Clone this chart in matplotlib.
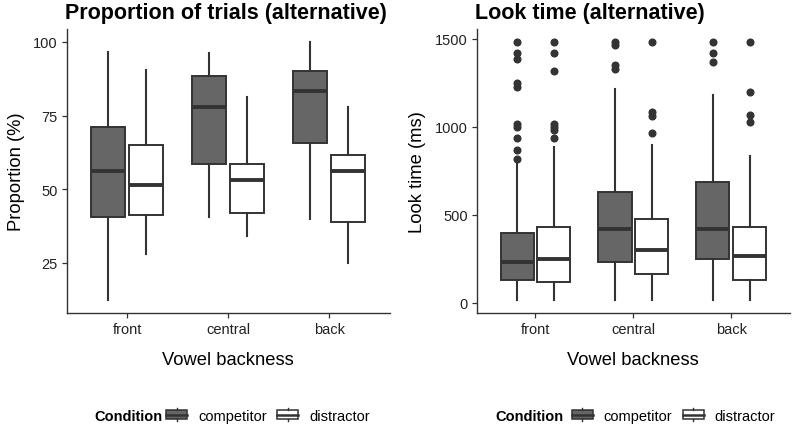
"""Boxplots of proportion of trials and look time by vowel backness."""

import matplotlib

matplotlib.use("Agg")
import matplotlib.pyplot as plt
from matplotlib.legend_handler import HandlerBase
from matplotlib.lines import Line2D
from matplotlib.patches import Patch, Rectangle

plt.rcParams["font.family"] = ["Liberation Sans", "DejaVu Sans"]

categories = ["front", "central", "back"]
conditions = ["competitor", "distractor"]

# proportion of trials (%), per condition, per category
prop_whislo = {"competitor": [12.4, 40.6, 39.8], "distractor": [27.9, 34.2, 24.9]}
prop_q1 = {"competitor": [40.6, 58.6, 65.8], "distractor": [41.4, 42.1, 39.0]}
prop_med = {"competitor": [56.2, 77.8, 83.4], "distractor": [51.4, 53.1, 56.2]}
prop_q3 = {"competitor": [71.1, 88.6, 90.2], "distractor": [64.9, 58.6, 61.8]}
prop_whishi = {"competitor": [96.7, 96.2, 100.0], "distractor": [90.5, 81.2, 78.0]}

# look time (ms)
look_whislo = {"competitor": [15, 15, 15], "distractor": [15, 15, 15]}
look_q1 = {"competitor": [132, 232, 250], "distractor": [119, 164, 132]}
look_med = {"competitor": [232, 418, 418], "distractor": [249, 297, 266]}
look_q3 = {"competitor": [396, 631, 686], "distractor": [430, 478, 430]}
look_whishi = {"competitor": [800, 1215, 1177], "distractor": [882, 895, 831]}
look_fliers = {
    "competitor": [
        [1481, 1415, 1381, 1249, 1227, 1013, 1000, 933, 867, 814],
        [1481, 1466, 1347, 1328],
        [1481, 1415, 1364],
    ],
    "distractor": [
        [1481, 1415, 1315, 1013, 1000, 981, 933],
        [1481, 1083, 1060, 964],
        [1481, 1198, 1064, 1028],
    ],
}

FILLS = {"competitor": "#666666", "distractor": "#ffffff"}
EDGE = "#333333"
OFFSETS = {"competitor": -0.1875, "distractor": 0.1875}
BOX_WIDTH = 0.3375


def build_stats(whislo, q1, med, q3, whishi, fliers=None):
    stats = []
    for i in range(len(categories)):
        stats.append({
            "whislo": whislo[i], "q1": q1[i], "med": med[i], "q3": q3[i],
            "whishi": whishi[i], "fliers": fliers[i] if fliers else [],
        })
    return stats


def draw_panel(ax, data, title, ylabel, yticks):
    for cond in conditions:
        stats = build_stats(*[d[cond] for d in data[:5]],
                            data[5][cond] if len(data) > 5 else None)
        positions = [i + 1 + OFFSETS[cond] for i in range(len(categories))]
        ax.bxp(
            stats, positions=positions, widths=BOX_WIDTH, patch_artist=True,
            showcaps=False, manage_ticks=False,
            boxprops=dict(facecolor=FILLS[cond], edgecolor=EDGE, linewidth=1.4),
            whiskerprops=dict(color=EDGE, linewidth=1.5),
            medianprops=dict(color=EDGE, linewidth=2.8, solid_capstyle="butt"),
            flierprops=dict(marker="o", markerfacecolor=EDGE, markeredgecolor=EDGE,
                            markersize=4.8, linestyle="none"),
        )
    ax.set_xlim(0.4, 3.6)
    ax.set_xticks([1, 2, 3])
    ax.set_xticklabels(categories)
    ax.set_yticks(yticks)
    ax.tick_params(labelsize=10.5, colors="#333333", labelcolor="#222222",
                   length=3.5, width=0.9, pad=3)
    for side in ["top", "right"]:
        ax.spines[side].set_visible(False)
    for side in ["left", "bottom"]:
        ax.spines[side].set_color("#333333")
        ax.spines[side].set_linewidth(1.0)
    ax.set_title(title, loc="left", fontsize=15.5, fontweight="bold", pad=8, x=-0.005)
    ax.set_xlabel("Vowel backness", fontsize=13.2, labelpad=11)
    ax.set_ylabel(ylabel, fontsize=13.2, labelpad=6)


class BoxKeyHandler(HandlerBase):
    def create_artists(self, legend, orig_handle, xdescent, ydescent,
                       width, height, fontsize, trans):
        h = height
        y0 = -ydescent
        rect = Rectangle((-xdescent, y0), width, h, facecolor=orig_handle.get_facecolor(),
                         edgecolor=EDGE, linewidth=1.1, transform=trans)
        mid = y0 + h / 2
        med = Line2D([-xdescent, -xdescent + width], [mid, mid], color=EDGE,
                     linewidth=1.8, transform=trans)
        cx = -xdescent + width / 2
        top = Line2D([cx, cx], [y0 + h, y0 + h + 1.3], color=EDGE, linewidth=1.0,
                     transform=trans)
        bot = Line2D([cx, cx], [y0 - 1.3, y0], color=EDGE, linewidth=1.0,
                     transform=trans)
        return [rect, med, top, bot]


fig = plt.figure(figsize=(7.96, 4.27), dpi=100)
W, H = 796, 427
ax1 = fig.add_axes([66.7 / W, 1 - 314 / H, (390 - 66.7) / W, (314 - 30) / H])
ax2 = fig.add_axes([476.7 / W, 1 - 314 / H, (790 - 476.7) / W, (314 - 30) / H])

draw_panel(ax1, [prop_whislo, prop_q1, prop_med, prop_q3, prop_whishi],
           "Proportion of trials (alternative)", "Proportion (%)", [25, 50, 75, 100])
ax1.set_ylim(8.0, 104.4)

draw_panel(ax2, [look_whislo, look_q1, look_med, look_q3, look_whishi, look_fliers],
           "Look time (alternative)", "Look time (ms)", [0, 500, 1000, 1500])
ax2.set_ylim(-58, 1554)

handles = [Patch(facecolor=FILLS[c], edgecolor=EDGE) for c in conditions]
legend_y = 1 - 416.7 / H
for title_x, legend_x in [(94, 268), (495, 673.5)]:
    fig.text(title_x / W, legend_y, "Condition", fontsize=10.5, fontweight="bold",
             ha="left", va="center")
    fig.legend(handles, conditions, ncol=2, loc="center",
               bbox_to_anchor=(legend_x / W, legend_y), frameon=False,
               fontsize=10.5, handlelength=1.45, handleheight=0.55,
               handletextpad=0.75, columnspacing=0.7, borderpad=0.2,
               handler_map={Patch: BoxKeyHandler()})

fig.savefig("out.png", dpi=100)
